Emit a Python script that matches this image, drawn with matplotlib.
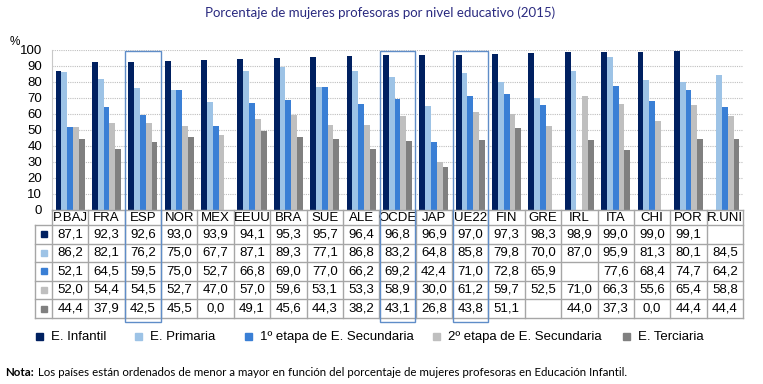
import numpy as np
import matplotlib.pyplot as plt
from matplotlib.patches import Rectangle

nan = np.nan

countries = ["P.BAJ", "FRA", "ESP", "NOR", "MEX", "EEUU", "BRA", "SUE", "ALE", "OCDE",
             "JAP", "UE22", "FIN", "GRE", "IRL", "ITA", "CHI", "POR", "R.UNI"]

infantil  = [87.1, 92.3, 92.6, 93.0, 93.9, 94.1, 95.3, 95.7, 96.4, 96.8, 96.9, 97.0, 97.3, 98.3, 98.9, 99.0, 99.0, 99.1, nan]
primaria  = [86.2, 82.1, 76.2, 75.0, 67.7, 87.1, 89.3, 77.1, 86.8, 83.2, 64.8, 85.8, 79.8, 70.0, 87.0, 95.9, 81.3, 80.1, 84.5]
sec1      = [52.1, 64.5, 59.5, 75.0, 52.7, 66.8, 69.0, 77.0, 66.2, 69.2, 42.4, 71.0, 72.8, 65.9, nan, 77.6, 68.4, 74.7, 64.2]
sec2      = [52.0, 54.4, 54.5, 52.7, 47.0, 57.0, 59.6, 53.1, 53.3, 58.9, 30.0, 61.2, 59.7, 52.5, 71.0, 66.3, 55.6, 65.4, 58.8]
terciaria = [44.4, 37.9, 42.5, 45.5, 0.0, 49.1, 45.6, 44.3, 38.2, 43.1, 26.8, 43.8, 51.1, nan, 44.0, 37.3, 0.0, 44.4, 44.4]

series = [infantil, primaria, sec1, sec2, terciaria]
labels = ["E. Infantil", "E. Primaria", "1º etapa de E. Secundaria",
          "2º etapa de E. Secundaria", "E. Terciaria"]
colors = ["#002060", "#9DC3E6", "#3A7FD5", "#BFBFBF", "#808080"]
highlight = ["ESP", "OCDE", "UE22"]

W, H = 763, 384
fig = plt.figure(figsize=(W / 100, H / 100), dpi=100)
plt.rcParams["font.family"] = ["Liberation Sans", "DejaVu Sans"]

# pixel geometry of the plot area
x0, x1 = 52, 743
y_top, y_bot = 50, 210
n = len(countries)
gw = (x1 - x0) / n

ax = fig.add_axes([x0 / W, 1 - y_bot / H, (x1 - x0) / W, (y_bot - y_top) / H])
x = np.arange(n)
bw = 0.16
for k, (vals, c) in enumerate(zip(series, colors)):
    ax.bar(x + (k - 2) * bw, vals, width=bw, color=c, zorder=3)

ax.set_xlim(-0.5, n - 0.5)
ax.set_ylim(0, 100)
ax.set_yticks(range(0, 101, 10))
ax.tick_params(axis="y", length=0, labelsize=9.5, pad=7)
ax.set_xticks([])
ax.yaxis.grid(True, color="#BFBFBF", linestyle=(0, (1, 1)), linewidth=0.8, zorder=0)
for s in ["top", "right", "bottom"]:
    ax.spines[s].set_visible(False)
ax.spines["left"].set_color("#C8C8C8")

# overlay in pixel coordinates for table, legend and notes
ov = fig.add_axes([0, 0, 1, 1], facecolor="none")
ov.set_xlim(0, W)
ov.set_ylim(H, 0)
ov.axis("off")

ov.text(10, 42, "%", fontsize=8.5, ha="left", va="center")
ov.text(380, 13, "Porcentaje de mujeres profesoras por nivel educativo (2015)",
        fontsize=9.5, color="#2A2A80", family=["Lato", "DejaVu Sans"], ha="center", va="center")

# table
tl = 35
rows_y = [210, 225, 243.5, 262, 280.5, 299, 318]
gc = "#A6A6A6"
for i in range(n + 1):
    ov.plot([x0 + i * gw] * 2, [rows_y[0], rows_y[-1]], color=gc, lw=1)
ov.plot([tl, tl], [rows_y[1], rows_y[-1]], color=gc, lw=1)
ov.plot([x0, x1], [rows_y[0]] * 2, color=gc, lw=1)
for yy in rows_y[1:]:
    ov.plot([tl, x1], [yy, yy], color=gc, lw=1)

for i, name in enumerate(countries):
    cx = x0 + (i + 0.5) * gw
    ov.text(cx, (rows_y[0] + rows_y[1]) / 2 + 0.5, name, fontsize=9.5, ha="center", va="center")
    for r, vals in enumerate(series):
        v = vals[i]
        if np.isnan(v):
            continue
        cy = (rows_y[r + 1] + rows_y[r + 2]) / 2
        ov.text(cx, cy, f"{v:.1f}".replace(".", ","), fontsize=9.5, ha="center", va="center")

for r, c in enumerate(colors):
    cy = (rows_y[r + 1] + rows_y[r + 2]) / 2
    ov.add_patch(Rectangle((40.5, cy - 3), 6, 6, color=c))

# highlight boxes
for name in highlight:
    i = countries.index(name)
    ov.add_patch(Rectangle((x0 + i * gw + 0.5, 51), gw - 1, 271, fill=False,
                           edgecolor="#5F8DC8", lw=1, zorder=5))

# legend
leg_x = [36, 135, 245, 433, 623]
for lx, lab, c in zip(leg_x, labels, colors):
    ov.add_patch(Rectangle((lx, 333), 7, 7, color=c))
    ov.text(lx + 15, 337, lab, fontsize=9.5, ha="left", va="center")

# note
ov.text(5, 372, "Nota:", fontsize=8.3, fontweight="bold", ha="left", va="center",
        family=["Lato", "DejaVu Sans"])
ov.text(38, 372, "Los países están ordenados de menor a mayor en función del porcentaje de mujeres "
        "profesoras en Educación Infantil.", fontsize=8.3, ha="left", va="center",
        family=["Lato", "DejaVu Sans"])

fig.savefig("out.png", dpi=100)
